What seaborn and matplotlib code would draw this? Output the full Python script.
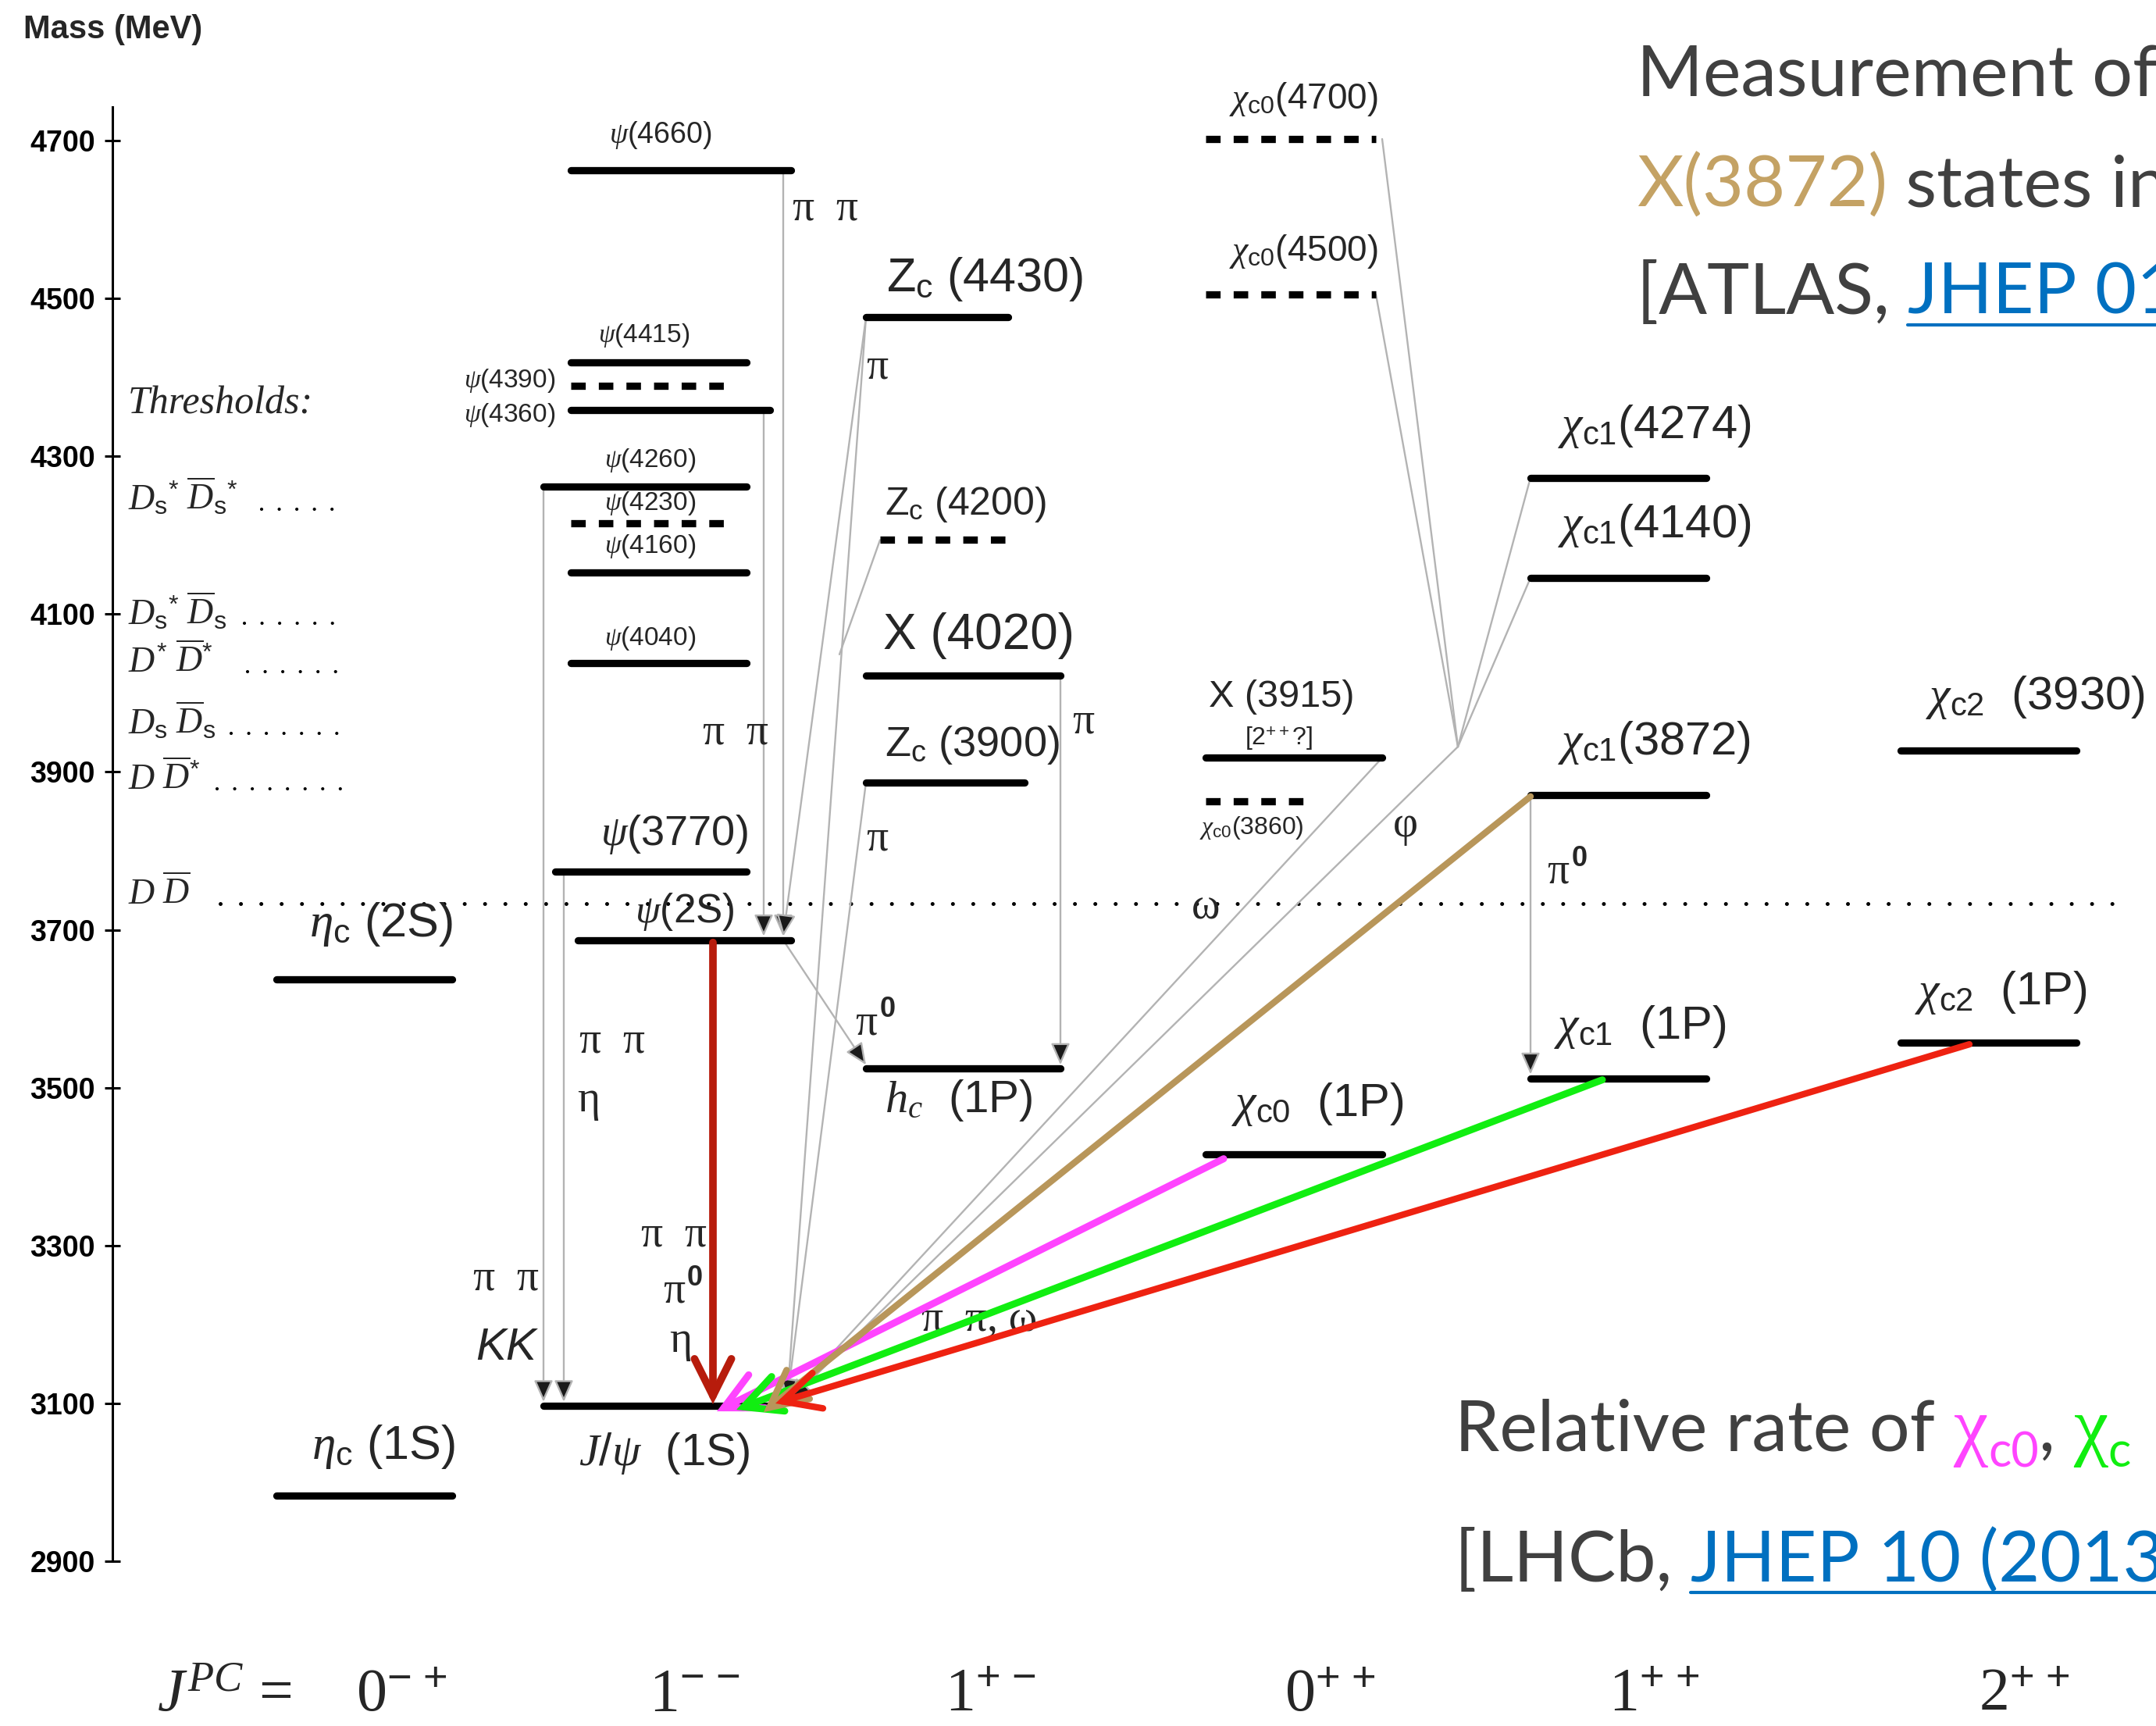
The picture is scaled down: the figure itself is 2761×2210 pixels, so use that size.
import matplotlib
matplotlib.use('Agg')
import matplotlib.pyplot as plt
import seaborn as sns
import pandas as pd

# charmonium states, masses (MeV)
state_names = ['eta_c(1S)', 'eta_c(2S)', 'J/psi(1S)', 'psi(2S)', 'psi(3770)', 'psi(4040)',
               'psi(4160)', 'psi(4230)', 'psi(4260)', 'psi(4360)', 'psi(4390)', 'psi(4415)',
               'psi(4660)', 'Zc(4430)', 'Zc(4200)', 'X(4020)', 'Zc(3900)', 'h_c(1P)',
               'chi_c0(4700)', 'chi_c0(4500)', 'X(3915)', 'chi_c0(3860)', 'chi_c0(1P)',
               'chi_c1(4274)', 'chi_c1(4140)', 'chi_c1(3872)', 'chi_c1(1P)',
               'chi_c2(3930)', 'chi_c2(1P)']
state_mass = [2983, 3637, 3097, 3687, 3774, 4038,
              4153, 4215, 4262, 4359, 4389, 4419,
              4662, 4476, 4194, 4022, 3887, 3524,
              4702, 4505, 3918, 3863, 3416,
              4273, 4146, 3871, 3512,
              3927, 3557]
state_dashed = ['psi(4230)', 'psi(4390)', 'Zc(4200)', 'chi_c0(4700)', 'chi_c0(4500)', 'chi_c0(3860)']

threshold_labels = [r'$D_{\mathrm{s}}{}^{*}\ \overline{D}_{\mathrm{s}}{}^{*}$',
                    r'$D_{\mathrm{s}}{}^{*}\ \overline{D}_{\mathrm{s}}$',
                    r'$D^{*}\ \overline{D}^{*}$',
                    r'$D_{\mathrm{s}}\ \overline{D}_{\mathrm{s}}$',
                    r'$D\ \overline{D}^{*}$',
                    r'$D\ \overline{D}$']
threshold_mass = [4230, 4085, 4024, 3946, 3876, 3730]

mass_ticks = [2900, 3100, 3300, 3500, 3700, 3900, 4100, 4300, 4500, 4700]
jpc_labels = [r'0$^{-\,+}$', r'1$^{-\,-}$', r'1$^{+\,-}$', r'0$^{+\,+}$', r'1$^{+\,+}$', r'2$^{+\,+}$']

W, H = 2761, 2210
sns.set_theme(style='white')
plt.rcParams['font.family'] = ['Liberation Sans', 'DejaVu Sans']
plt.rcParams['mathtext.fontset'] = 'custom'
plt.rcParams['mathtext.rm'] = 'Liberation Sans'
plt.rcParams['mathtext.it'] = 'Liberation Serif:italic'
plt.rcParams['mathtext.bf'] = 'Liberation Sans:bold'
plt.rcParams['mathtext.sf'] = 'Liberation Sans'

fig = plt.figure(figsize=(W / 100, H / 100), dpi=100)
ax = fig.add_axes([0, 0, 1, 1])
ax.set_xlim(0, W)
ax.set_ylim(2691.3, 4878.1)


def xd(v):
    # horizontal layout measured on the 1568 px wide preview
    return v * 1.761


def md(v):
    return 4878.1 - 1.7425 * v


# horizontal extent of each level bar (pixels)
x_span = {
    'eta_c(1S)': (354, 579), 'eta_c(2S)': (354, 579),
    'J/psi(1S)': (696, 986), 'psi(2S)': (740, 1013), 'psi(3770)': (711, 956),
    'psi(4040)': (731, 956), 'psi(4160)': (731, 956), 'psi(4230)': (731, 942),
    'psi(4260)': (696, 956), 'psi(4360)': (731, 986), 'psi(4390)': (731, 942),
    'psi(4415)': (731, 956), 'psi(4660)': (731, 1013),
    'Zc(4430)': (1109, 1291), 'Zc(4200)': (1127, 1303), 'X(4020)': (1109, 1358),
    'Zc(3900)': (1109, 1312), 'h_c(1P)': (1109, 1358),
    'chi_c0(4700)': (1544, 1762), 'chi_c0(4500)': (1544, 1762), 'X(3915)': (1544, 1770),
    'chi_c0(3860)': (1544, 1678), 'chi_c0(1P)': (1544, 1770),
    'chi_c1(4274)': (1960, 2185), 'chi_c1(4140)': (1960, 2185),
    'chi_c1(3872)': (1960, 2185), 'chi_c1(1P)': (1960, 2185),
    'chi_c2(3930)': (2434, 2659), 'chi_c2(1P)': (2434, 2659),
}

rows = []
for n, m in zip(state_names, state_mass):
    kind = 'dashed' if n in state_dashed else 'solid'
    for x in x_span[n]:
        rows.append({'name': n, 'x': x, 'mass': m, 'kind': kind})
levels = pd.DataFrame(rows)
sns.lineplot(data=levels, x='x', y='mass', units='name', estimator=None, sort=False,
             style='kind', dashes={'solid': '', 'dashed': (2.0, 1.8)},
             color='black', lw=6.7, legend=False, ax=ax, zorder=3)
ax.set_xlabel('')
ax.set_ylabel('')

# mass axis
for s in ['top', 'right', 'bottom']:
    ax.spines[s].set_visible(False)
ax.spines['left'].set_position(('data', 144))
ax.spines['left'].set_bounds(2900, 4743)
ax.spines['left'].set_linewidth(2.2)
ax.spines['left'].set_color('black')
ax.set_xticks([])
ax.set_yticks(mass_ticks)
ax.set_yticklabels([str(t) for t in mass_ticks])
ax.tick_params(axis='y', direction='inout', length=14, width=2.2, pad=9,
               labelsize=27, left=True, colors='black')
for lab in ax.get_yticklabels():
    lab.set_fontweight('bold')
fig.text(30 / W, 1 - 18 / H, 'Mass (MeV)', fontsize=30, fontweight='bold', va='top', ha='left')

# thresholds
ax.text(xd(93), md(294), 'Thresholds:', family='Liberation Serif', style='italic',
        fontsize=36, va='center', ha='left')
leader_start = [335, 313, 317, 296, 278, 282]
for lab, m, x0 in zip(threshold_labels, threshold_mass, leader_start):
    ax.text(xd(93), m + 2, lab, fontsize=33, va='baseline', ha='left')
    if m == threshold_mass[-1]:
        ax.plot([x0, 2721], [m + 3, m + 3], color='black', lw=3.6,
                linestyle=(0, (0.01, 5.2)), dash_capstyle='round', zorder=1)
    else:
        ax.plot([x0, 440], [m + 3, m + 3], color='black', lw=3.0,
                linestyle=(0, (0.01, 5.4)), dash_capstyle='round', zorder=1)

# gray transitions
GRAY = '#b3b3b3'


def gray_arrow(x0, m0, x1, m1, head=True):
    style = '-|>,head_length=1.7,head_width=0.75' if head else '-'
    ax.annotate('', xy=(x1, m1), xytext=(x0, m0),
                arrowprops=dict(arrowstyle=style, mutation_scale=10, lw=1.7,
                                ec=GRAY, fc='#1a1a1a', shrinkA=0, shrinkB=0),
                zorder=2)


gray_arrow(696, 4262, 696, 3102)
gray_arrow(722, 3774, 722, 3102)
gray_arrow(978, 4359, 978, 3692)
gray_arrow(1003, 4662, 1003, 3692)
gray_arrow(1109, 4476, 1003, 3692)
gray_arrow(1109, 4476, 1008, 3104)
gray_arrow(1109, 3887, 1008, 3104)
gray_arrow(1127, 4194, 1075, 4049, head=False)
gray_arrow(1358, 4022, 1358, 3529)
gray_arrow(1003, 3687, 1109, 3529)
gray_arrow(1770, 3918, 1010, 3104)
P = (1867, 3932)
gray_arrow(1770, 4702, *P, head=False)
gray_arrow(1762, 4505, *P, head=False)
gray_arrow(1960, 4273, *P, head=False)
gray_arrow(1960, 4146, *P, head=False)
gray_arrow(*P, 1012, 3104)
gray_arrow(1960, 3871, 1960, 3517)


# coloured transitions into J/psi
def color_arrow(x0, m0, x1, m1, c, lw):
    ax.annotate('', xy=(x1, m1), xytext=(x0, m0),
                arrowprops=dict(arrowstyle='->,head_length=3.4,head_width=1.7',
                                mutation_scale=10, lw=lw, color=c,
                                shrinkA=0, shrinkB=0, joinstyle='miter'),
                zorder=6)


color_arrow(913, 3684, 913, 3099, '#b71c0c', 7.0)
color_arrow(1567, 3410, 918, 3090, '#ff44ff', 6.5)
color_arrow(2052, 3510, 943, 3092, '#11ee11', 6.5)
color_arrow(1960, 3869, 978, 3089, '#b8965a', 6.0)
color_arrow(2522, 3555, 993, 3100, '#ee2211', 6.0)

# level labels
level_labels = [
    (r'$\psi$(4660)', 480, 98, 27, 'center'),
    (r'$\psi$(4415)', 468, 244, 24, 'center'),
    (r'$\psi$(4390)', 404, 277, 24, 'right'),
    (r'$\psi$(4360)', 404, 302, 24, 'right'),
    (r'$\psi$(4260)', 473, 335, 24, 'center'),
    (r'$\psi$(4230)', 473, 366, 24, 'center'),
    (r'$\psi$(4160)', 473, 397, 24, 'center'),
    (r'$\psi$(4040)', 473, 464, 24, 'center'),
    (r'$\psi$(3770)', 490, 607, 39, 'center'),
    (r'$\psi$(2S)', 498, 663, 37, 'center'),
    (r'$\eta_{\mathrm{c}}$ (2S)', 277, 672, 44, 'center'),
    (r'$\eta_{\mathrm{c}}$ (1S)', 279, 1052, 44, 'center'),
    (r'$J/\psi$  (1S)', 483, 1057, 42, 'center'),
    (r'$\mathrm{Z}_{\mathrm{c}}$ (4430)', 716, 203, 44, 'center'),
    (r'$\mathrm{Z}_{\mathrm{c}}$ (4200)', 702, 367, 36, 'center'),
    ('X (4020)', 712, 462, 46, 'center'),
    (r'$\mathrm{Z}_{\mathrm{c}}$ (3900)', 707, 542, 39, 'center'),
    (r'$h_c$  (1P)', 697, 800, 42, 'center'),
    (r'$\chi_{\mathrm{c0}}$(4700)', 948, 72, 33, 'center'),
    (r'$\chi_{\mathrm{c0}}$(4500)', 948, 183, 33, 'center'),
    ('X (3915)', 932, 507, 35, 'center'),
    (r'[2$^{++}$?]', 930, 537, 23, 'center'),
    (r'$\chi_{\mathrm{c0}}$(3860)', 910, 602, 23, 'center'),
    (r'$\chi_{\mathrm{c0}}$  (1P)', 958, 803, 43, 'center'),
    (r'$\chi_{\mathrm{c1}}$(4274)', 1203, 310, 43, 'center'),
    (r'$\chi_{\mathrm{c1}}$(4140)', 1203, 382, 43, 'center'),
    (r'$\chi_{\mathrm{c1}}$(3872)', 1203, 540, 43, 'center'),
    (r'$\chi_{\mathrm{c1}}$  (1P)', 1193, 747, 43, 'center'),
    (r'$\chi_{\mathrm{c2}}$  (3930)', 1480, 507, 43, 'center'),
    (r'$\chi_{\mathrm{c2}}$  (1P)', 1455, 722, 43, 'center'),
]
for s, x, y, fs, ha in level_labels:
    ax.text(xd(x), md(y), s, fontsize=fs, ha=ha, va='center', zorder=5)

# transition labels
SERIF = 'Liberation Serif'
trans_labels = [
    ('π  π', 600, 152), ('π', 638, 267), ('π  π', 535, 533), ('π', 788, 525),
    ('π', 638, 610), ('π  π', 445, 757), ('η', 428, 800), ('π  π', 368, 930),
    ('π  π', 490, 898), ('η', 495, 975), ('π  π, ω', 712, 960), ('ω', 877, 660),
    ('φ', 1022, 600),
]
for s, x, y in trans_labels:
    ax.text(xd(x), md(y), s, family=SERIF, fontsize=40, ha='center', va='center', zorder=5)
for x, y in [(630, 744), (490, 939), (1133, 634)]:
    ax.text(xd(x), md(y), 'π', family=SERIF, fontsize=40, ha='center', va='center', zorder=5)
    ax.text(xd(x) + 27, md(y) + 17, '0', fontsize=26, fontweight='bold',
            ha='center', va='center', zorder=5)
ax.text(xd(368), md(980), 'KK', fontsize=42, style='italic', ha='center', va='center', zorder=5)

# J^PC row
ax.text(xd(163), md(1233), r'$J^{PC}$ =', family=SERIF, fontsize=56, ha='center', va='center')
for lab, x in zip(jpc_labels, [292, 505, 720, 967, 1203, 1472]):
    ax.text(xd(x), md(1233), lab, family=SERIF, fontsize=56, ha='center', va='center')

# annotation text on the right
DARK = '#404040'
BLUE = '#0070c0'
rend = fig.canvas.get_renderer()
inv = ax.transData.inverted()


def run(x, m, pieces):
    for s, c, fam, fs, dy, link in pieces:
        t = ax.text(x, m - dy, s, color=c, family=fam, fontsize=fs,
                    ha='left', va='baseline', zorder=5)
        bb = t.get_window_extent(renderer=rend)
        x_end = inv.transform((bb.x1, 0))[0]
        if link:
            ax.plot([x, x_end], [m - 14, m - 14], color=c, lw=3, zorder=5)
        x = x_end


SANS = 'Lato'
FS = 66
run(xd(1190), md(70), [('Measurement of', DARK, SANS, FS, 0, False)])
run(xd(1190), md(150), [('X(3872)', '#c4a264', SANS, FS, 0, False),
                        (' states in', DARK, SANS, FS, 0, False)])
run(xd(1190), md(228), [('[ATLAS, ', DARK, SANS, FS, 0, False),
                        ('JHEP 01', BLUE, SANS, FS, 0, True)])
run(xd(1058), md(1055), [('Relative rate of ', DARK, SANS, FS, 0, False),
                         ('χ', '#ff44ff', SERIF, FS + 6, 0, False),
                         ('c0', '#ff44ff', SANS, 44, 20, False),
                         (', ', DARK, SANS, FS, 0, False),
                         ('χ', '#11ee11', SERIF, FS + 6, 0, False),
                         ('c', '#11ee11', SANS, 44, 20, False)])
run(xd(1058), md(1150), [('[LHCb, ', DARK, SANS, FS, 0, False),
                         ('JHEP 10 (2013', BLUE, SANS, FS, 0, True)])

fig.savefig('out.png', dpi=100)
